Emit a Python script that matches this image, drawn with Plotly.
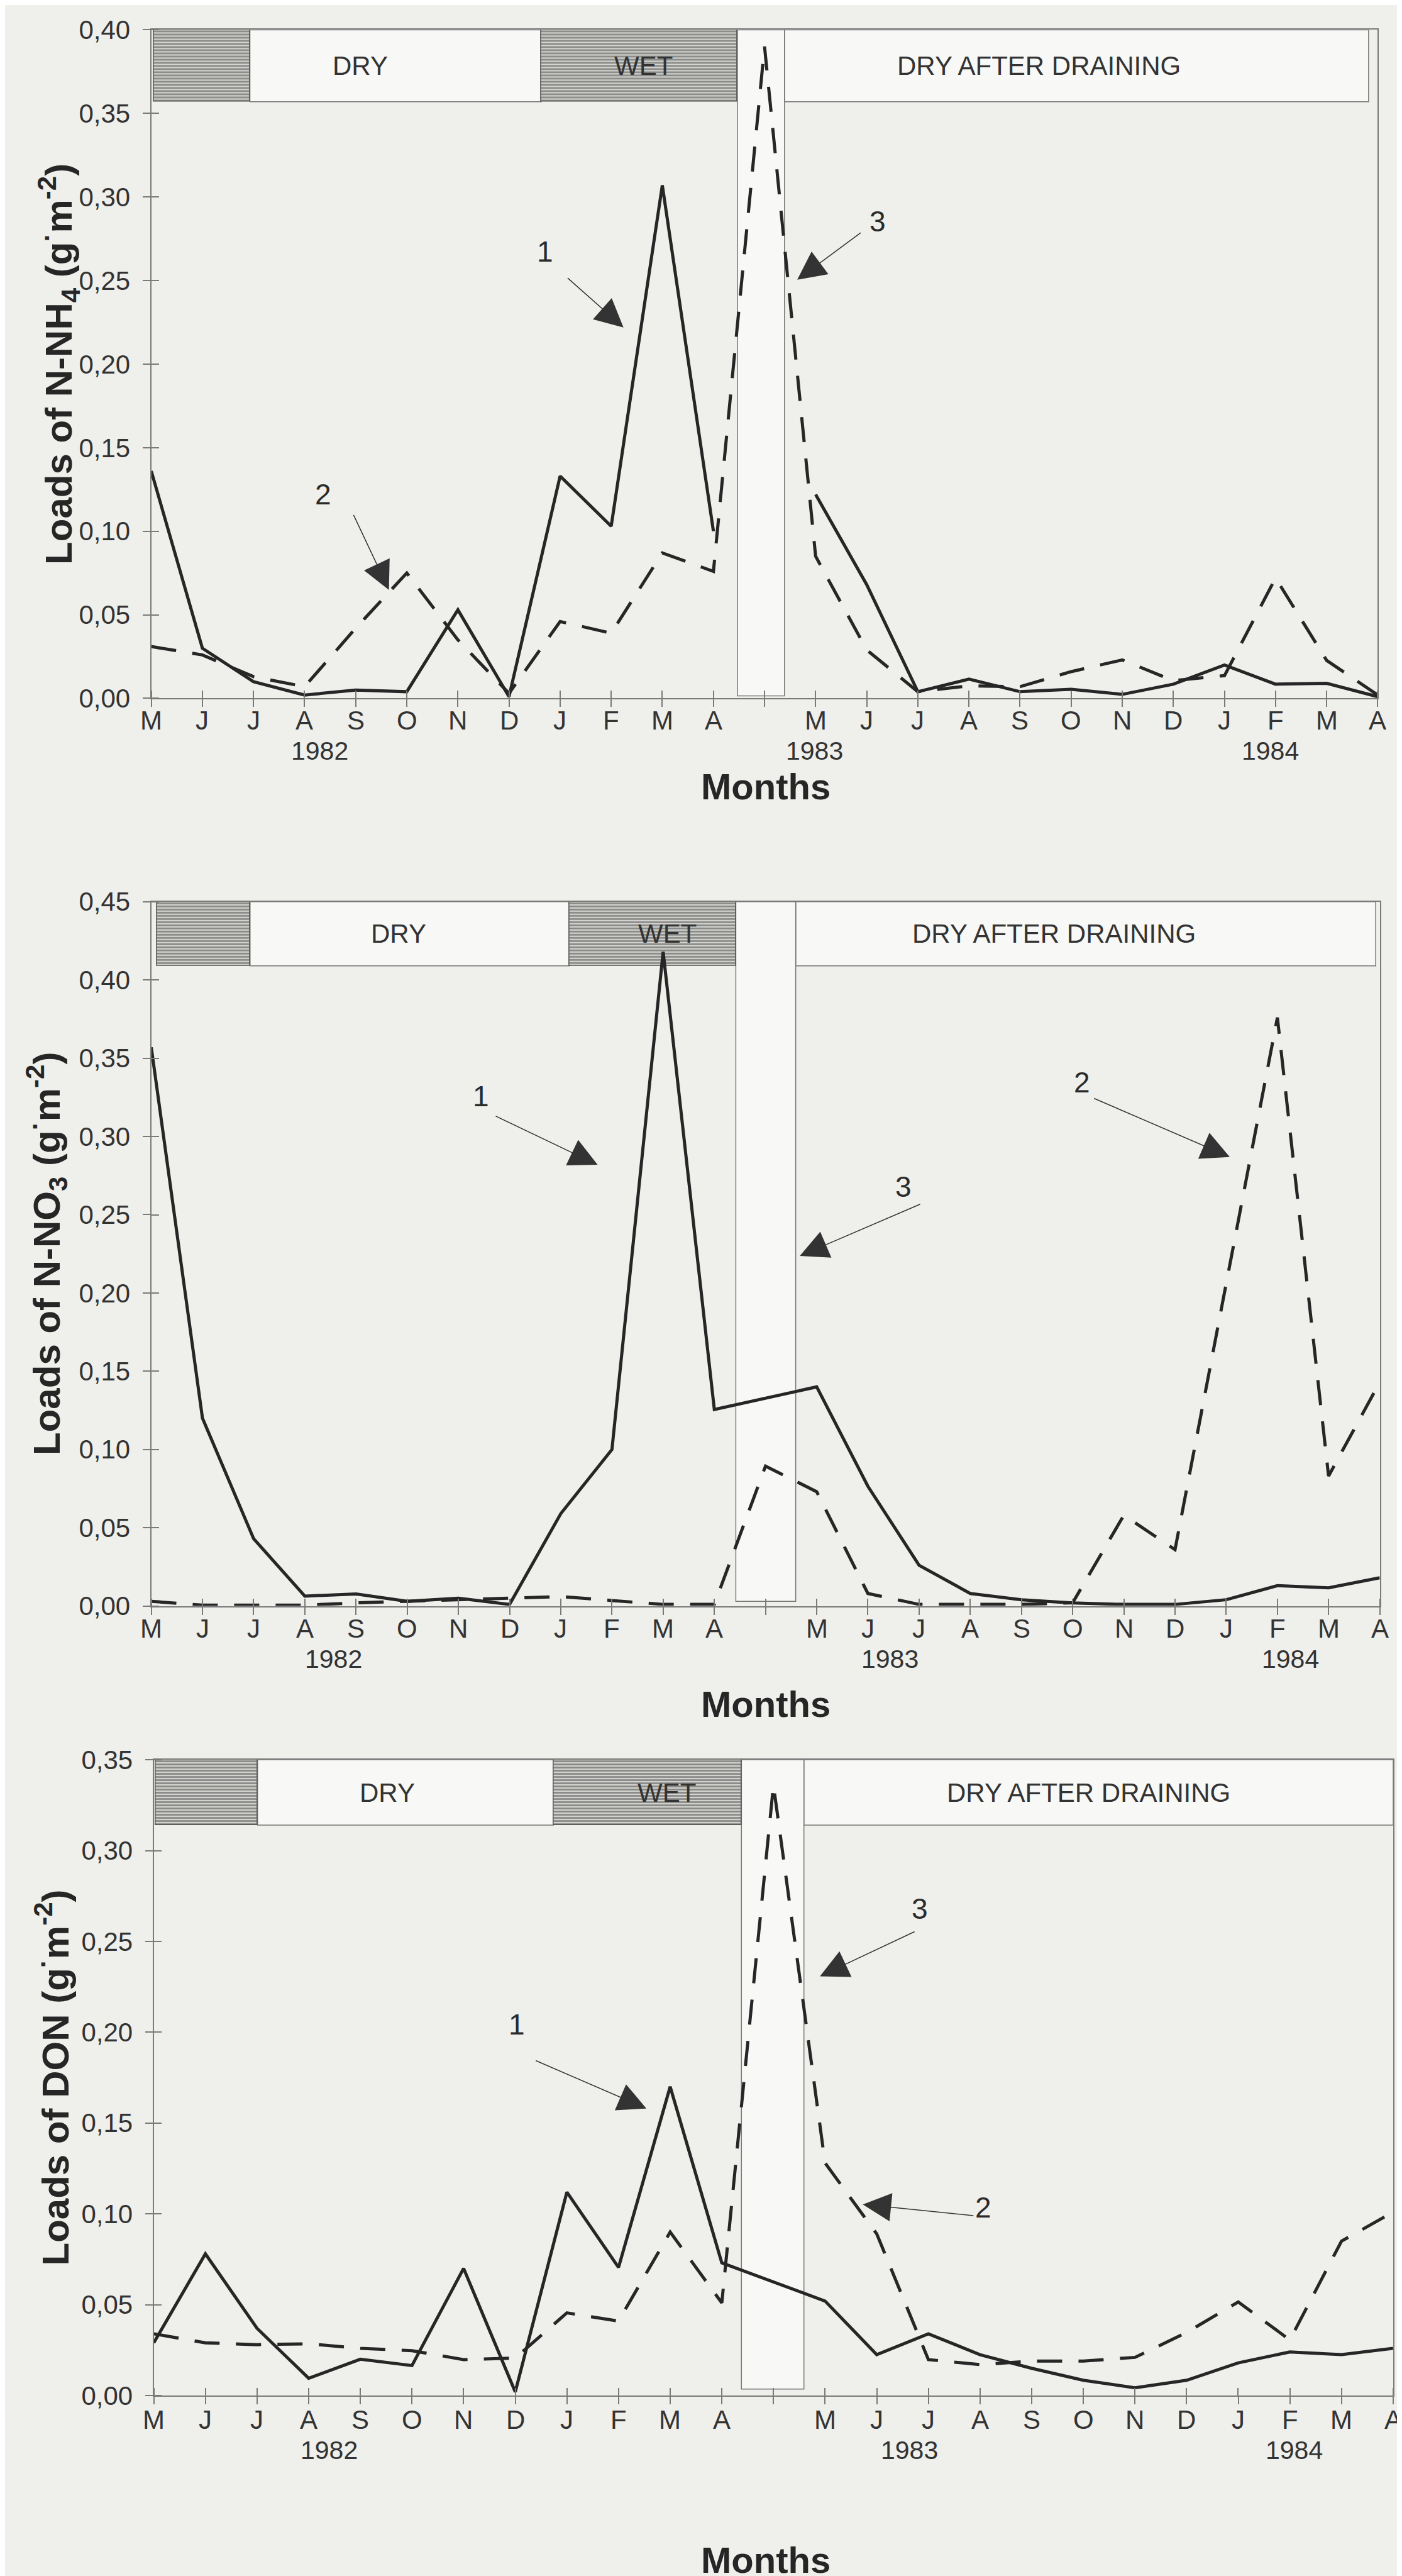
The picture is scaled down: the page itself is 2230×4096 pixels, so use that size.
import plotly.graph_objects as go

# ---------------- data ----------------
months = ["M", "J", "J", "A", "S", "O", "N", "D", "J", "F", "M", "A", "",
          "M", "J", "J", "A", "S", "O", "N", "D", "J", "F", "M", "A"]
years = ["1982", "1983", "1984"]

nh4_1 = [0.136, 0.030, 0.010, 0.002, 0.005, 0.004, 0.053, 0.001, 0.133, 0.103, 0.307, 0.100, None,
         0.122, 0.068, 0.004, 0.0115, 0.004, 0.0054, 0.0024, 0.0085, 0.020, 0.0085, 0.009, 0.001]
nh4_2 = [0.031, 0.026, 0.013, 0.007, 0.042, 0.075, 0.035, 0.003, 0.046, 0.039, 0.087, 0.076, 0.390,
         0.085, 0.029, 0.004, 0.0075, 0.007, 0.016, 0.023, 0.0106, 0.0136, 0.072, 0.0227, 0.002]

no3_1 = [0.357, 0.120, 0.043, 0.0063, 0.0077, 0.003, 0.005, 0.001, 0.059, 0.100, 0.418, 0.1255, None,
         0.140, 0.0765, 0.026, 0.008, 0.004, 0.002, 0.001, 0.001, 0.004, 0.013, 0.0116, 0.018]
no3_2 = [0.003, 0.0005, 0.0005, 0.0005, 0.002, 0.003, 0.004, 0.005, 0.006, 0.0035, 0.001, 0.001, 0.0894,
         0.073, 0.008, 0.001, 0.001, 0.001, 0.002, 0.058, 0.036, 0.205, 0.376, 0.083, 0.143]

don_1 = [0.029, 0.078, 0.037, 0.0095, 0.020, 0.0165, 0.070, 0.002, 0.112, 0.0705, 0.170, 0.073, None,
         0.052, 0.0225, 0.034, 0.0225, 0.015, 0.0084, 0.0043, 0.0084, 0.018, 0.024, 0.0225, 0.026]
don_2 = [0.034, 0.029, 0.028, 0.0285, 0.026, 0.0247, 0.0198, 0.0206, 0.0455, 0.041, 0.090, 0.051, 0.336,
         0.128, 0.089, 0.0198, 0.017, 0.019, 0.019, 0.021, 0.0347, 0.0515, 0.0306, 0.085, 0.101]

# hydrological periods (in month-index units) per panel
periods_nh4 = {"wet0": (0.05, 1.93), "dry": (1.93, 7.63), "wet": (7.63, 11.47),
               "drain": (11.47, 12.39), "dad": (12.39, 23.82)}
periods_no3 = {"wet0": (0.11, 1.93), "dry": (1.93, 8.17), "wet": (8.17, 11.42),
               "drain": (11.42, 12.59), "dad": (12.59, 23.92)}
periods_don = {"wet0": (0.04, 2.01), "dry": (2.01, 7.74), "wet": (7.74, 11.38),
               "drain": (11.38, 12.59), "dad": (12.59, 24.0)}

ytick_nh4 = [0.00, 0.05, 0.10, 0.15, 0.20, 0.25, 0.30, 0.35, 0.40]
ytick_no3 = [0.00, 0.05, 0.10, 0.15, 0.20, 0.25, 0.30, 0.35, 0.40, 0.45]
ytick_don = [0.00, 0.05, 0.10, 0.15, 0.20, 0.25, 0.30, 0.35]

# ---------------- geometry / style ----------------
REF_W, REF_H = 2828, 5194
W, H = 2230, 4096
S = W / REF_W
FONT = "Liberation Sans, Arial, sans-serif"
INK = "#262626"
AXC = "#7a7a7a"
BG = "#efefeb"
BOXFILL = "#f8f8f6"

def px(v):
    return v * S

def fx(X):
    return X / REF_W

def fy(Y):
    return 1 - Y / REF_H

panels = [
    dict(s1=nh4_1, s2=nh4_2, periods=periods_nh4, ymax=0.40, yt=ytick_nh4,
         x0=295, x1=2769, ytop=50, ybot=1398, band=0.357, drainbot=0.0015,
         gap1=False,
         title="<b>Loads of N-NH<sub>4</sub> (g<sup>·</sup>m<sup>-2</sup>)</b>", tx=109,
         txt={"DRY": 4.09, "WET": 9.63, "DRY AFTER DRAINING": 17.37},
         yearx=[3.30, 12.98, 21.9], monthoff=45, yearoff=106, monthsY=1575,
         arrows=[("1", (7.71, 0.2672), (8.13, 0.252), (9.24, 0.2219)),
                 ("2", (3.36, 0.1222), (3.95, 0.1103), (4.65, 0.0649)),
                 ("3", (14.21, 0.2853), (13.9, 0.279), (12.64, 0.2505))]),
    dict(s1=no3_1, s2=no3_2, periods=periods_no3, ymax=0.45, yt=ytick_no3,
         x0=295, x1=2773, ytop=1808, ybot=3228, band=0.409, drainbot=0.003,
         gap1=True,
         title="<b>Loads of N-NO<sub>3</sub> (g<sup>·</sup>m<sup>-2</sup>)</b>", tx=84,
         txt={"DRY": 4.83, "WET": 10.08, "DRY AFTER DRAINING": 17.63},
         yearx=[3.56, 14.43, 22.25], monthoff=46, yearoff=107, monthsY=3426,
         arrows=[("1", (6.44, 0.3256), (6.71, 0.3133), (8.72, 0.2819)),
                 ("2", (18.18, 0.3344), (18.4, 0.3246), (21.07, 0.2869)),
                 ("3", (14.69, 0.2677), (15.04, 0.257), (12.67, 0.2237))]),
    dict(s1=don_1, s2=don_2, periods=periods_don, ymax=0.35, yt=ytick_don,
         x0=300, x1=2800, ytop=3538, ybot=4820, band=0.314, drainbot=0.0036,
         gap1=True,
         title="<b>Loads of DON (g<sup>·</sup>m<sup>-2</sup>)</b>", tx=95,
         txt={"DRY": 4.52, "WET": 9.93, "DRY AFTER DRAINING": 18.1},
         yearx=[3.40, 14.63, 22.08], monthoff=49, yearoff=110, monthsY=5151,
         arrows=[("1", (7.03, 0.2042), (7.38, 0.1846), (9.54, 0.158)),
                 ("3", (14.83, 0.268), (14.75, 0.2556), (12.9, 0.2308)),
                 ("2", (16.06, 0.1037), (15.89, 0.099), (13.73, 0.1052))]),
]

fig = go.Figure()
xs = list(range(len(months)))
shapes = []
annotations = []
layout_axes = {}

for i, p in enumerate(panels):
    sx = "" if i == 0 else str(i + 1)
    xref, yref = "x" + sx, "y" + sx
    per = p["periods"]
    ymax = p["ymax"]
    band = p["band"]

    # hatched (wet) period boxes as patterned bars
    for key in ("wet0", "wet"):
        a, b = per[key]
        fig.add_trace(go.Bar(
            x=[(a + b) / 2], y=[ymax - band], base=[band], width=[b - a],
            xaxis=xref, yaxis=yref, showlegend=False, hoverinfo="skip",
            marker=dict(color="#cfcfcb",
                        line=dict(color="#555555", width=1.5),
                        pattern=dict(shape="-", fgcolor="#3a3a3a", bgcolor="#d4d4d0",
                                     size=5, solidity=0.55)),
        ))
    # open period boxes
    for key in ("dry", "dad"):
        a, b = per[key]
        shapes.append(dict(type="rect", xref=xref, yref=yref, x0=a, x1=b, y0=band, y1=ymax,
                           fillcolor=BOXFILL, line=dict(color="#777777", width=1.5), layer="below"))
    a, b = per["drain"]
    shapes.append(dict(type="rect", xref=xref, yref=yref, x0=a, x1=b, y0=p["drainbot"], y1=ymax,
                       fillcolor=BOXFILL, line=dict(color="#777777", width=1.5), layer="below"))

    # series
    fig.add_trace(go.Scatter(x=xs, y=p["s1"], mode="lines", xaxis=xref, yaxis=yref,
                             line=dict(color=INK, width=5), connectgaps=p["gap1"],
                             showlegend=False, hoverinfo="skip"))
    fig.add_trace(go.Scatter(x=xs, y=p["s2"], mode="lines", xaxis=xref, yaxis=yref,
                             line=dict(color=INK, width=5, dash="40px,26px"),
                             showlegend=False, hoverinfo="skip"))

    # period labels
    for t, xv in p["txt"].items():
        annotations.append(dict(text=t, x=xv, y=(band + ymax) / 2, xref=xref, yref=yref,
                                showarrow=False, font=dict(family=FONT, size=42, color="#333333")))

    # pointer arrows with numbers
    for lab, (lx, ly), (ax, ay), (hx, hy) in p["arrows"]:
        annotations.append(dict(text="", x=hx, y=hy, ax=ax, ay=ay, xref=xref, yref=yref,
                                axref=xref, ayref=yref, showarrow=True, arrowhead=2,
                                arrowsize=6, arrowwidth=1.5, arrowcolor="#333333"))
        annotations.append(dict(text=lab, x=lx, y=ly, xref=xref, yref=yref, showarrow=False,
                                font=dict(family=FONT, size=46, color="#2a2a2a")))

    # month tick labels (on the axis's own scale)
    for xv, m in zip(xs, months):
        if m:
            annotations.append(dict(text=m, x=xv, y=0, xref=xref, yref=yref + " domain",
                                    yshift=-px(p["monthoff"]), xanchor="center", yanchor="middle",
                                    showarrow=False,
                                    font=dict(family=FONT, size=42, color="#333333")))
    # year labels
    for yr, xv in zip(years, p["yearx"]):
        annotations.append(dict(text=yr, x=xv, y=0, xref=xref, yref=yref + " domain",
                                yshift=-px(p["yearoff"]), xanchor="center", yanchor="middle",
                                showarrow=False,
                                font=dict(family=FONT, size=41, color="#333333")))

    # axis titles
    annotations.append(dict(text="<b>Months</b>", x=fx(1535), y=fy(p["monthsY"]),
                            xref="paper", yref="paper", xanchor="center", yanchor="middle",
                            showarrow=False, font=dict(family=FONT, size=58, color="#262626")))
    annotations.append(dict(text=p["title"], x=fx(p["tx"]), y=fy((p["ytop"] + p["ybot"]) / 2),
                            xref="paper", yref="paper", xanchor="center", yanchor="middle",
                            showarrow=False, textangle=-90,
                            font=dict(family=FONT, size=60, color="#262626")))

    layout_axes["xaxis" + sx] = dict(
        domain=[fx(p["x0"]), fx(p["x1"])], range=[0, len(months) - 1], anchor=yref,
        tickmode="array", tickvals=xs, showticklabels=False,
        ticks="outside", ticklen=12, tickwidth=2, tickcolor=AXC,
        minor=dict(ticks="inside", ticklen=12, tickwidth=2, tickcolor=AXC, tick0=-0.0001, dtick=1),
        showline=True, linecolor=AXC, linewidth=2, mirror=True,
        showgrid=False, zeroline=False, automargin=False, fixedrange=True,
    )
    layout_axes["yaxis" + sx] = dict(
        domain=[fy(p["ybot"]), fy(p["ytop"])], range=[0, ymax], anchor=xref,
        tickmode="array", tickvals=p["yt"], ticktext=[f"{v:.2f}".replace(".", ",") for v in p["yt"]],
        ticks="outside", ticklen=12, tickwidth=2, tickcolor=AXC,
        minor=dict(ticks="inside", ticklen=12, tickwidth=2, tickcolor=AXC, tick0=-0.00001, dtick=0.05),
        showline=True, linecolor=AXC, linewidth=2, mirror=True,
        showgrid=False, zeroline=False, ticklabelstandoff=11, automargin=False,
        tickfont=dict(family=FONT, size=42, color="#333333"), fixedrange=True,
    )

fig.update_layout(
    width=W, height=H, margin=dict(l=0, r=0, t=0, b=0, autoexpand=False),
    paper_bgcolor=BG, plot_bgcolor=BG, barmode="overlay", bargap=0,
    shapes=shapes, annotations=annotations, showlegend=False,
    **layout_axes,
)

fig.write_html("out.html")
